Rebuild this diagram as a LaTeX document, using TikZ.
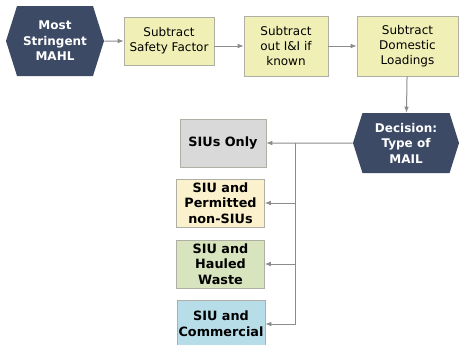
\documentclass[tikz,border=0pt]{standalone}
\usepackage{fontspec}
\setmainfont{DejaVu Sans}
\usetikzlibrary{shapes.symbols,arrows.meta}
\definecolor{navy}{RGB}{60,74,102}
\definecolor{boxline}{RGB}{175,175,165}
\definecolor{stepfill}{RGB}{240,240,182}
\definecolor{siusfill}{RGB}{217,217,217}
\definecolor{permfill}{RGB}{251,241,204}
\definecolor{haulfill}{RGB}{216,228,190}
\definecolor{commfill}{RGB}{183,221,232}
\definecolor{linegray}{RGB}{140,140,140}
\begin{document}
\begin{tikzpicture}[x=0.75pt,y=-0.75pt,
    hexnode/.style={signal,signal to=east and west,signal pointer angle=145,
      fill=navy,text=white,align=center,inner sep=0pt,
      font=\bfseries\fontsize{9}{11.6}\selectfont},
    stepbox/.style={rectangle,draw=boxline,fill=stepfill,align=center,
      inner sep=0pt,minimum height=45pt,font=\fontsize{9}{11.3}\selectfont},
    choicebox/.style={rectangle,draw=boxline,align=center,inner sep=0pt,
      minimum width=66pt,minimum height=36pt,
      font=\bfseries\fontsize{9.6}{11.8}\selectfont},
    link/.style={draw=linegray,line width=0.75pt,-{Latex[length=4.5pt,width=3.5pt]}}]
  \useasboundingbox (0,0) rectangle (459,344);
  \draw
    (55,41) node[hexnode,minimum width=73.5pt,minimum height=52.5pt] (mahl){Most\\Stringent\\MAHL}
    (169,41) node[stepbox,minimum width=67.5pt,minimum height=36pt] (safety){Subtract\\Safety Factor}
    (286,46) node[stepbox,minimum width=63pt] (iandi){Subtract\\out I\&I if\\known}
    (407.5,46) node[stepbox,minimum width=75.75pt] (domestic){Subtract\\Domestic\\Loadings}
    (406,143) node[hexnode,minimum width=79.5pt,minimum height=45pt] (decision){Decision:\\Type of\\MAIL}
    (223,143) node[choicebox,fill=siusfill,minimum width=64.5pt] (sius){SIUs Only}
    (220.5,203) node[choicebox,fill=permfill] (permitted){SIU and\\Permitted\\non-SIUs}
    (220.5,264) node[choicebox,fill=haulfill] (hauled){SIU and\\Hauled\\Waste}
    (221,324) node[choicebox,fill=commfill] (commercial){SIU and\\Commercial};
  \coordinate (split) at (295,143);
  \begin{scope}[link]
    \draw (mahl) to (safety);
    \draw (safety.east |- iandi) to (iandi);
    \draw (iandi) to (domestic);
    \draw (domestic) to (decision);
    \draw (decision) to (sius);
    \draw (split) |- (permitted);
    \draw (split) |- (hauled);
    \draw (split) |- (commercial);
  \end{scope}
\end{tikzpicture}
\end{document}
